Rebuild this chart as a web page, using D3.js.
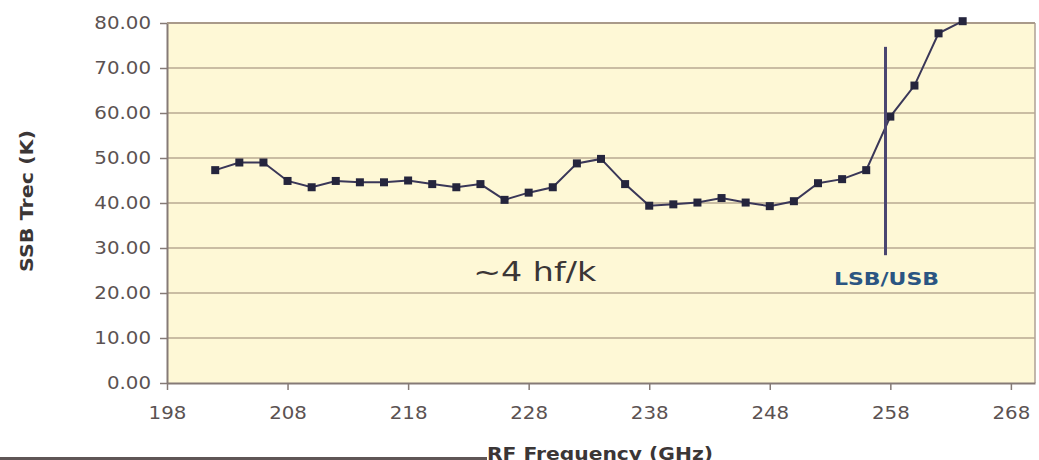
<!DOCTYPE html>
<html>
<head>
<meta charset="utf-8">
<script src="https://cdn.jsdelivr.net/npm/d3@7"></script>
<style>
  html, body { margin: 0; padding: 0; background: #ffffff; }
  svg { display: block; }
  text { font-family: "DejaVu Sans", Verdana, sans-serif; }
</style>
</head>
<body>
<svg id="chart" width="1039" height="460"></svg>
<script>
// RF frequency (GHz) of each measurement
const freqs = [202, 204, 206, 208, 210, 212, 214, 216, 218, 220, 222, 224, 226, 228, 230, 232,
               234, 236, 238, 240, 242, 244, 246, 248, 250, 252, 254, 256, 258, 260, 262, 264];
// SSB receiver noise temperature (K)
const trec = [47.3, 49.0, 49.0, 44.9, 43.5, 44.9, 44.6, 44.6, 45.0, 44.2, 43.5, 44.2, 40.7, 42.3, 43.5, 48.8,
              49.8, 44.2, 39.4, 39.7, 40.1, 41.1, 40.1, 39.3, 40.4, 44.4, 45.3, 47.3, 59.2, 66.1, 77.7, 80.4];
// Axis ticks
const xTicks = [198, 208, 218, 228, 238, 248, 258, 268];
const yTicks = [0, 10, 20, 30, 40, 50, 60, 70, 80];
// LSB/USB boundary marker: frequency and vertical extent (K)
const splitFreq = 257.6;
const splitRange = [28.4, 74.7];
// Annotation anchors (data units)
const hfNote = { text: "~4 hf/k", x: 228.5, y: 22.7 };
const sbNote = { text: "LSB/USB", y: 21.8 };

(function () {
  const svg = d3.select("#chart");
  const pLeft = 167, pRight = 1035, pTop = 23, pBottom = 383;

  const x = d3.scaleLinear().domain([198, 270]).range([pLeft, pRight]);
  const y = d3.scaleLinear().domain([0, 80]).range([pBottom, pTop]);

  // plot background
  svg.append("rect")
    .attr("x", pLeft).attr("y", pTop)
    .attr("width", pRight - pLeft).attr("height", pBottom - pTop)
    .attr("fill", "#fef8d6");

  // horizontal gridlines
  svg.append("g").selectAll("line")
    .data(yTicks.filter(d => d > 0))
    .join("line")
    .attr("x1", pLeft).attr("x2", pRight)
    .attr("y1", d => y(d)).attr("y2", d => y(d))
    .attr("stroke", "#b8aa92").attr("stroke-width", 1.6);

  // right border
  svg.append("line")
    .attr("x1", pRight).attr("x2", pRight).attr("y1", pTop).attr("y2", pBottom)
    .attr("stroke", "#b3a69a").attr("stroke-width", 1.6);

  const tickColor = "#5b5252";
  const stretch = (sel, k) => sel.each(function () {
    const w = this.getComputedTextLength();
    d3.select(this).attr("textLength", w * k).attr("lengthAdjust", "spacingAndGlyphs");
  });

  // y axis
  const yAxis = svg.append("g")
    .attr("transform", `translate(${pLeft},0)`)
    .call(d3.axisLeft(y).tickValues(yTicks).tickFormat(d3.format(".2f"))
      .tickSize(7).tickPadding(9).tickSizeOuter(0));
  yAxis.select(".domain").attr("stroke", "#857a76").attr("stroke-width", 2);
  yAxis.selectAll(".tick line").attr("stroke", "#857a76").attr("stroke-width", 1.5);
  yAxis.selectAll(".tick text")
    .attr("fill", tickColor).style("font-size", "18px")
    .style("font-family", "'DejaVu Sans', Verdana, sans-serif")
    .call(stretch, 1.1);

  // x axis
  const xAxis = svg.append("g")
    .attr("transform", `translate(0,${pBottom})`)
    .call(d3.axisBottom(x).tickValues(xTicks).tickFormat(d3.format("d"))
      .tickSize(7).tickPadding(16).tickSizeOuter(0));
  xAxis.select(".domain").attr("stroke", "#857a76").attr("stroke-width", 2);
  xAxis.selectAll(".tick line").attr("stroke", "#857a76").attr("stroke-width", 1.5);
  xAxis.selectAll(".tick text")
    .attr("fill", tickColor).style("font-size", "18px")
    .style("font-family", "'DejaVu Sans', Verdana, sans-serif")
    .call(stretch, 1.1);

  // top border
  svg.append("line")
    .attr("x1", pLeft).attr("x2", pRight).attr("y1", pTop).attr("y2", pTop)
    .attr("stroke", "#a99a8a").attr("stroke-width", 2);

  // data line and markers
  const pts = freqs.map((f, i) => [f, trec[i]]);
  svg.append("path")
    .datum(pts)
    .attr("d", d3.line().x(d => x(d[0])).y(d => y(d[1])))
    .attr("fill", "none").attr("stroke", "#3a3758").attr("stroke-width", 2);

  const m = 8;
  svg.append("g").selectAll("rect")
    .data(pts)
    .join("rect")
    .attr("x", d => x(d[0]) - m / 2).attr("y", d => y(d[1]) - m / 2)
    .attr("width", m).attr("height", m)
    .attr("fill", "#25253d");

  // LSB/USB boundary
  svg.append("line")
    .attr("x1", x(splitFreq)).attr("x2", x(splitFreq))
    .attr("y1", y(splitRange[1])).attr("y2", y(splitRange[0]))
    .attr("stroke", "#4b4670").attr("stroke-width", 3);

  svg.append("text")
    .attr("x", x(splitFreq) + 1).attr("y", y(sbNote.y))
    .attr("text-anchor", "middle")
    .attr("fill", "#2b5582")
    .style("font-size", "17px").style("font-weight", "bold")
    .attr("textLength", 105).attr("lengthAdjust", "spacingAndGlyphs")
    .text(sbNote.text);

  // photon-noise annotation
  svg.append("text")
    .attr("x", x(hfNote.x)).attr("y", y(hfNote.y))
    .attr("text-anchor", "middle")
    .attr("fill", "#3b3636")
    .style("font-size", "26px")
    .attr("textLength", 123).attr("lengthAdjust", "spacingAndGlyphs")
    .text(hfNote.text);

  // y axis title
  svg.append("text")
    .attr("transform", "translate(33,201) rotate(-90)")
    .attr("text-anchor", "middle")
    .attr("fill", "#3b3636")
    .style("font-size", "17px").style("font-weight", "bold")
    .attr("textLength", 142).attr("lengthAdjust", "spacingAndGlyphs")
    .text("SSB Trec (K)");

  // footer rule and x axis title
  svg.append("rect")
    .attr("x", 0).attr("y", 457).attr("width", 487).attr("height", 3)
    .attr("fill", "#5f5656");

  svg.append("text")
    .attr("x", 487).attr("y", 460)
    .attr("fill", "#3b3636")
    .style("font-size", "17px").style("font-weight", "bold")
    .attr("textLength", 226).attr("lengthAdjust", "spacingAndGlyphs")
    .text("RF Frequency (GHz)");
})();
</script>
</body>
</html>
